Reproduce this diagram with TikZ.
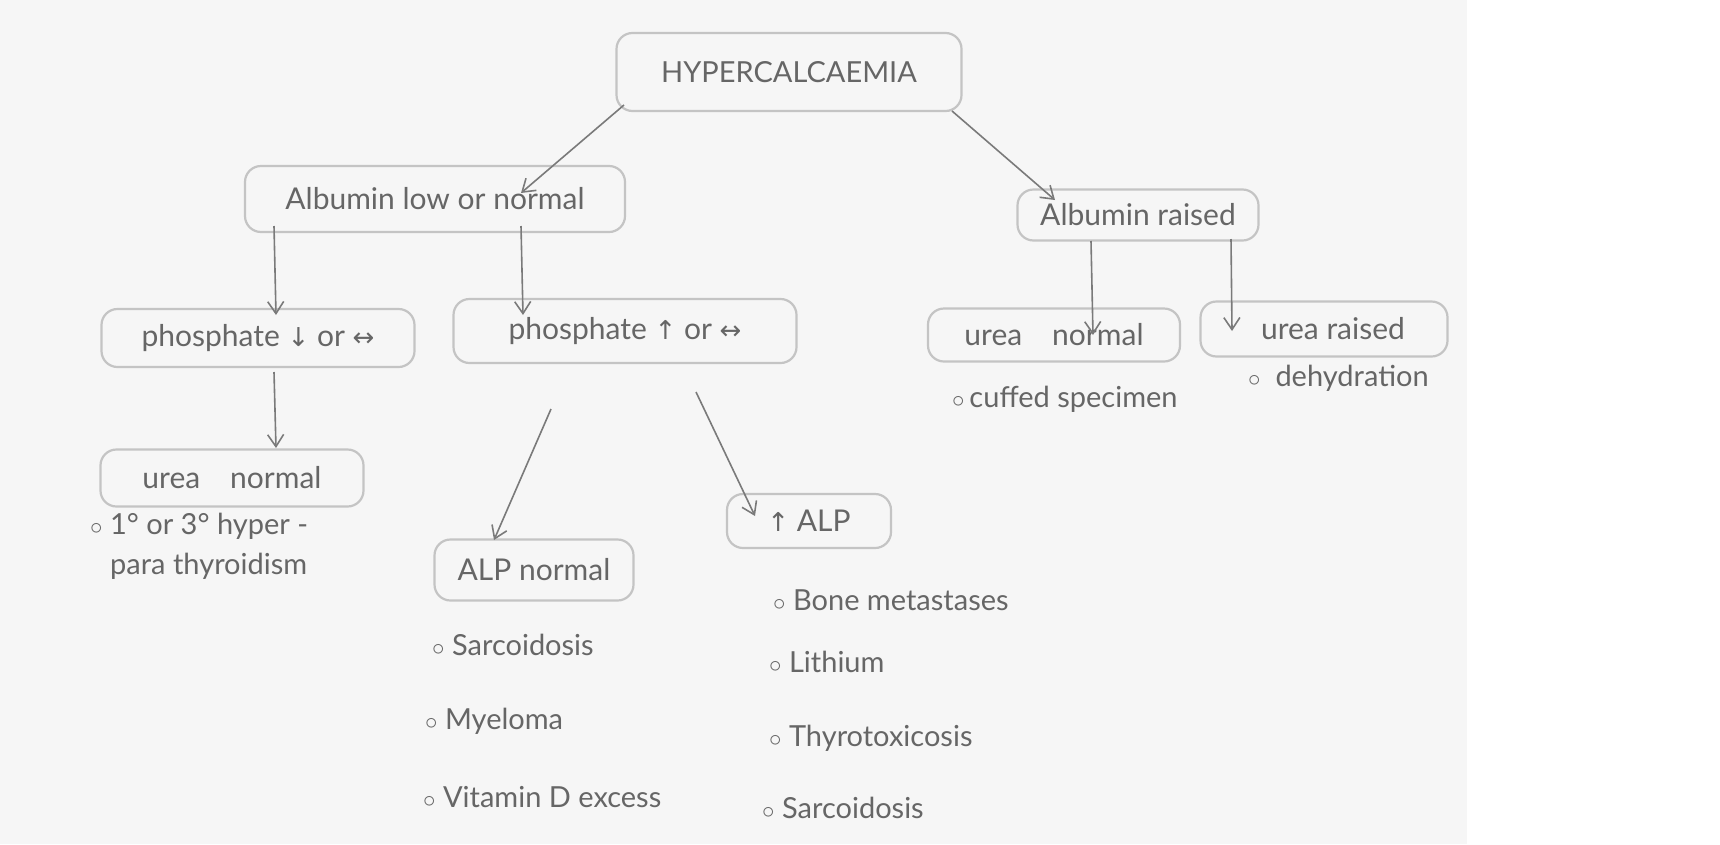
\documentclass[tikz,border=0pt]{standalone}
\usepackage{fontspec}
\setmainfont{Lato}
\newfontfamily\arrowfont{DejaVu Sans}
\usetikzlibrary{calc,arrows.meta}
\definecolor{paper}{HTML}{F6F6F6}
\definecolor{boxline}{HTML}{C4C4C4}
\definecolor{pencil}{HTML}{7A7A7A}
\definecolor{ink}{HTML}{666666}
\tikzset{
  box/.style={draw=boxline, line width=2.2pt, rounded corners=16pt, text=ink,
    font=\fontsize{30}{36}\selectfont, inner sep=0pt},
  conn/.style={draw=pencil, line width=1.6pt, -{Straight Barb[length=12pt,width=16pt]}},
  item/.style={text=ink, anchor=west, font=\fontsize{29}{34}\selectfont, inner sep=0pt, align=left},
}
\begin{document}
\begin{tikzpicture}[x=1pt, y=-1pt]
\useasboundingbox (0,0) rectangle (1720,844);
\fill[paper] (0,0) rectangle (1467,844);

\node[box, minimum width=345, minimum height=78, font=\fontsize{29}{34}\selectfont] (hyper) at (789,72) {HYPERCALCAEMIA};
\node[box, minimum width=380, minimum height=66] (alow) at (435,199) {Albumin low or normal};
\node[box, minimum width=241, minimum height=51] (araise) at (1138,215) {Albumin raised};
\node[box, minimum width=313, minimum height=58] (pdown) at (258,338) {phosphate {\arrowfont\fontsize{26}{30}\selectfont ↓} or {\arrowfont\fontsize{26}{30}\selectfont ↔}};
\node[box, minimum width=343, minimum height=64] (pup) at (625,331) {phosphate {\arrowfont\fontsize{26}{30}\selectfont ↑} or {\arrowfont\fontsize{26}{30}\selectfont ↔}};
\node[box, minimum width=252, minimum height=53] (unr) at (1054,335) {urea\quad normal};
\node[box, minimum width=247, minimum height=55] (ur) at (1324,329) {\hspace*{18pt}urea raised};
\node[box, minimum width=263, minimum height=57] (unl) at (232,478) {urea\quad normal};
\node[box, minimum width=199, minimum height=61] (alpn) at (534,570) {ALP normal};
\node[box, minimum width=164, minimum height=54] (alpup) at (809,521) {{\arrowfont\fontsize{26}{30}\selectfont ↑} ALP};

\draw[conn] ($(hyper.center)+(-165,33)$) -- ($(alow.center)+(86,-6)$);
\draw[conn] ($(hyper.center)+(163,39)$) -- ($(araise.center)+(-83,-15)$);
\draw[conn] ($(alow.center)+(-161,27)$) -- ($(pdown.center)+(18,-23)$);
\draw[conn] ($(alow.center)+(86,27)$) -- ($(pup.center)+(-102,-16)$);
\draw[conn] ($(pdown.center)+(16,34)$) -- ($(unl.center)+(44,-30)$);
\draw[conn] ($(pup.center)+(-74,78)$) -- ($(alpn.center)+(-40,-30)$);
\draw[conn] ($(pup.center)+(71,61)$) -- ($(alpup.center)+(-54,-5)$);
\draw[conn] ($(araise.center)+(-47,26)$) -- ($(unr.center)+(39,0)$);
\draw[conn] ($(araise.center)+(93,24)$) -- ($(ur.center)+(-92,2)$);

\node[item, anchor=north west] (hpt) at (90,513) {$\circ$\ 1° or 3° hyper -\\[6pt]\hspace*{20pt}para thyroidism};
\node[item] (cuff) at (952,399) {$\circ$\,cuffed specimen};
\node[item] (dehyd) at (1248,378) {$\circ$\ \ dehydration};

\node[item] (sarc1) at (432,645) {$\circ$\ Sarcoidosis};
\node[item] (myel) at (425,721) {$\circ$\ Myeloma};
\node[item] (vitd) at (423,797) {$\circ$\ Vitamin D excess};

\node[item] (bone) at (773,600) {$\circ$\ Bone metastases};
\node[item] (lith) at (769,662) {$\circ$\ Lithium};
\node[item] (thyr) at (769,738) {$\circ$\ Thyrotoxicosis};
\node[item] (sarc2) at (762,808) {$\circ$\ Sarcoidosis};
\end{tikzpicture}
\end{document}
